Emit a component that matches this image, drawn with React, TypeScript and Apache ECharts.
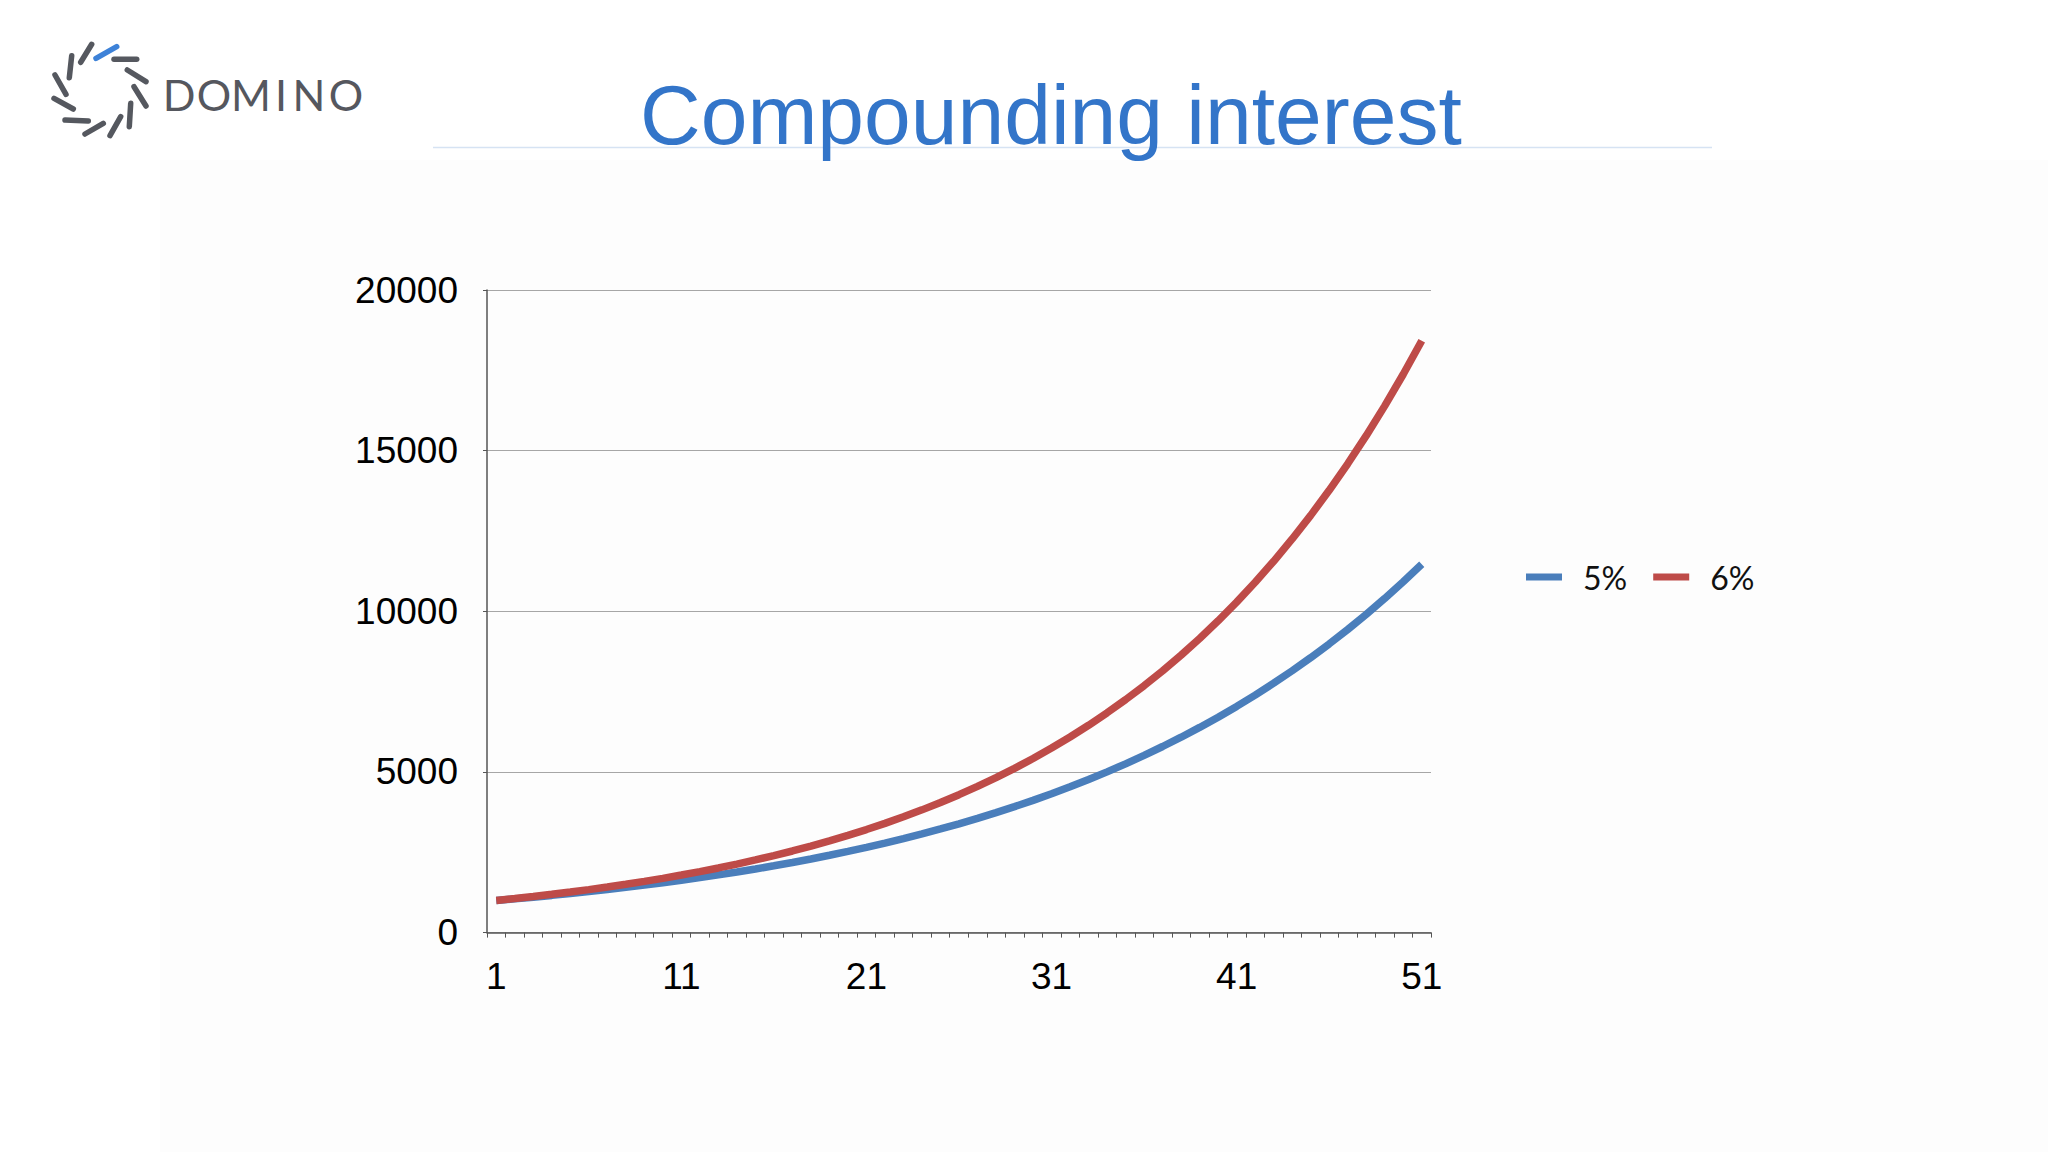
import React, { useEffect, useRef } from "react";
import * as echarts from "echarts";

const periods: string[] = [
  "1","2","3","4","5","6","7","8","9","10",
  "11","12","13","14","15","16","17","18","19","20",
  "21","22","23","24","25","26","27","28","29","30",
  "31","32","33","34","35","36","37","38","39","40",
  "41","42","43","44","45","46","47","48","49","50","51",
];

const rate5: number[] = [
  1000, 1050, 1103, 1158, 1216, 1276, 1340, 1407, 1477, 1551,
  1629, 1710, 1796, 1886, 1980, 2079, 2183, 2292, 2407, 2527,
  2653, 2786, 2925, 3072, 3225, 3386, 3556, 3734, 3920, 4116,
  4322, 4538, 4765, 5003, 5253, 5516, 5792, 6081, 6386, 6705,
  7040, 7392, 7762, 8150, 8557, 8985, 9434, 9906, 10401, 10921, 11467,
];

const rate6: number[] = [
  1000, 1060, 1124, 1191, 1262, 1338, 1419, 1504, 1594, 1689,
  1791, 1898, 2012, 2133, 2261, 2397, 2540, 2693, 2854, 3026,
  3207, 3400, 3604, 3820, 4049, 4292, 4549, 4822, 5112, 5418,
  5743, 6088, 6453, 6841, 7251, 7686, 8147, 8636, 9154, 9704,
  10286, 10903, 11557, 12251, 12986, 13765, 14591, 15466, 16394, 17378, 18420,
];

const seriesNames: string[] = ["5%", "6%"];
const seriesColors: string[] = ["#4a7ebb", "#be4b48"];
const titleText = "Compounding interest";
const logoWord = ["D", "O", "M", "I", "N", "O"];
const logoLetterX = [179, 214, 251, 281, 309, 346];

// logo dashes [x1, y1, x2, y2]
const logoDashes: number[][] = [
  [71.7, 55.7, 69.3, 77.7],
  [80.7, 62.3, 91.7, 44.3],
  [114, 59.3, 136.7, 59.3],
  [127.3, 70, 146, 81.7],
  [134, 86.7, 146, 106],
  [130.7, 103.3, 129.3, 126.7],
  [120.7, 116.7, 110, 135.7],
  [103.3, 123.3, 85, 134],
  [65, 120, 88.3, 121],
  [54, 98.3, 73.3, 109],
  [55, 75, 66, 94.3],
];
const logoBlueDash = [96, 58.3, 116.7, 46.7];

export default function App() {
  const ref = useRef<HTMLDivElement>(null);

  useEffect(() => {
    if (!ref.current) return;
    const chart = echarts.init(ref.current, null, { renderer: "svg" });

    const graphics: any[] = [
      {
        type: "rect",
        z: -1,
        silent: true,
        shape: { x: 160, y: 160, width: 2048 - 160, height: 1152 - 160 },
        style: { fill: "#fdfdfd" },
      },
      {
        type: "line",
        shape: { x1: 433, y1: 147.5, x2: 1712, y2: 147.5 },
        style: { stroke: "#d6e3f3", lineWidth: 1.5 },
      },
      {
        type: "text",
        x: 640,
        y: 115,
        style: {
          text: titleText,
          fill: "#3375c9",
          fontSize: 84,
          fontFamily: "Liberation Sans, Arial, sans-serif",
          textAlign: "left",
          textVerticalAlign: "middle",
        },
      },
      ...logoDashes.map((d) => ({
        type: "line",
        shape: { x1: d[0], y1: d[1], x2: d[2], y2: d[3] },
        style: { stroke: "#55585f", lineWidth: 5.5, lineCap: "round" },
      })),
      {
        type: "line",
        shape: { x1: logoBlueDash[0], y1: logoBlueDash[1], x2: logoBlueDash[2], y2: logoBlueDash[3] },
        style: { stroke: "#3d82d8", lineWidth: 5.5, lineCap: "round" },
      },
      ...logoWord.map((ch, i) => ({
        type: "text",
        x: logoLetterX[i],
        y: 94,
        style: {
          text: ch,
          fill: "#55575e",
          fontSize: 43,
          fontWeight: "normal",
          fontFamily: "Lato, sans-serif",
          textAlign: "center",
          textVerticalAlign: "middle",
        },
      })),
    ];

    chart.setOption({
      animation: false,
      backgroundColor: "#ffffff",
      graphic: graphics,
      legend: {
        left: 1521,
        top: 556,
        icon: "rect",
        itemWidth: 36,
        itemHeight: 7,
        itemGap: 26,
        data: seriesNames,
        textStyle: {
          fontSize: 32,
          fontFamily: "Lato, sans-serif",
          color: "#111111",
          padding: [0, 0, 0, 16],
        },
      },
      grid: {
        left: 487,
        right: 2048 - 1431,
        top: 290,
        bottom: 1152 - 932.6,
        containLabel: false,
      },
      xAxis: {
        type: "category",
        data: periods,
        boundaryGap: true,
        axisLine: { show: true, lineStyle: { color: "#555555", width: 1.5 } },
        axisTick: { show: true, interval: 0, length: 5, lineStyle: { color: "#555555", width: 1 } },
        axisLabel: {
          interval: 9,
          margin: 25,
          fontSize: 37,
          color: "#000000",
          fontFamily: "Liberation Sans, Arial, sans-serif",
        },
        splitLine: { show: false },
      },
      yAxis: {
        type: "value",
        min: 0,
        max: 20000,
        interval: 5000,
        axisLine: { show: true, lineStyle: { color: "#555555", width: 1.5 } },
        axisTick: { show: true, length: 4, lineStyle: { color: "#555555", width: 1 } },
        axisLabel: {
          margin: 29,
          fontSize: 37,
          color: "#000000",
          fontFamily: "Liberation Sans, Arial, sans-serif",
          formatter: (v: number) => String(v),
        },
        splitLine: { show: true, lineStyle: { color: "#a6a6a6", width: 1.2 } },
      },
      series: [
        {
          name: seriesNames[0],
          type: "line",
          data: rate5,
          showSymbol: false,
          color: seriesColors[0],
          lineStyle: { width: 7.5, color: seriesColors[0] },
        },
        {
          name: seriesNames[1],
          type: "line",
          data: rate6,
          showSymbol: false,
          color: seriesColors[1],
          lineStyle: { width: 7.5, color: seriesColors[1] },
        },
      ],
    });

    return () => chart.dispose();
  }, []);

  return (
    <div
      ref={ref}
      style={{ position: "absolute", left: 0, top: 0, width: 2048, height: 1152 }}
    />
  );
}
